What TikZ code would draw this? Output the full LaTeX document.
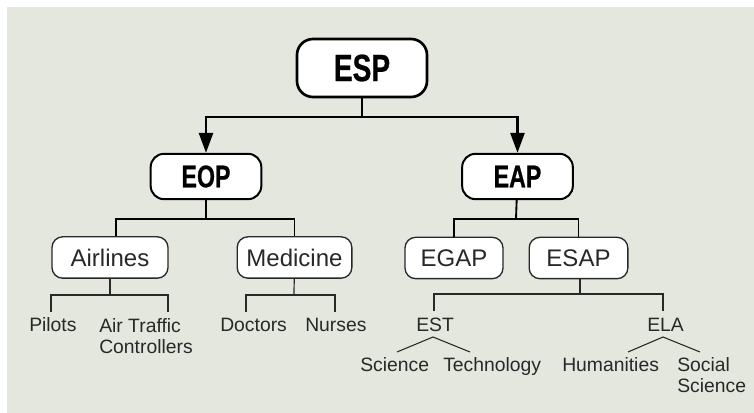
\documentclass[tikz,border=0pt]{standalone}
\usepackage{fontspec}
\setmainfont{Liberation Sans}
\newfontfamily\headfont{Liberation Sans}[FakeStretch=0.74,FakeBold=0.6]
\usetikzlibrary{arrows.meta}
\definecolor{bg}{RGB}{228,231,222}
\definecolor{ink}{RGB}{40,40,40}
\tikzset{
  topbox/.style={draw=black, line width=2pt, fill=white, rounded corners=12pt, inner sep=0pt,
    minimum width=97.5pt, minimum height=43.5pt, font=\headfont\bfseries\fontsize{28.5}{30}\selectfont},
  midbox/.style={draw=black, line width=1.5pt, fill=white, rounded corners=10pt, inner sep=0pt,
    minimum width=83pt, minimum height=34pt, font=\headfont\bfseries\fontsize{23.5}{25}\selectfont},
  subbox/.style={draw=ink, line width=1pt, fill=white, rounded corners=8pt, inner sep=0pt,
    minimum height=31pt, text=ink, font=\fontsize{18}{20}\selectfont},
  leaf/.style={anchor=base west, inner sep=0pt, text=ink, align=left,
    font=\fontsize{14.5}{16}\selectfont},
  l1/.style={draw=black, line width=2pt},
  l1arrow/.style={l1, -{Triangle[width=10.5pt,length=15pt]}},
  l2/.style={draw=black, line width=1.4pt},
  l3/.style={draw=ink, line width=0.9pt},
}
\begin{document}
\begin{tikzpicture}[x=0.75pt,y=-0.75pt]
\useasboundingbox (0,0) rectangle (754,413);
\fill[bg] (7,7) rectangle (754,413);

% boxes
\node[topbox] (esp) at (362,68) {ESP};
\node[midbox] (eop) at (206,176.5) {EOP};
\node[midbox] (eap) at (517.5,176.5) {EAP};
\node[subbox, minimum width=87pt] (air) at (110,257.5) {Airlines};
\node[subbox, minimum width=86pt] (med) at (294.5,257.5) {Medicine};
\node[subbox, minimum width=73.5pt] (egap) at (454,258) {EGAP};
\node[subbox, minimum width=74pt] (esap) at (578.5,258) {ESAP};

% leaves (multi-line nodes: base is the last line)
\node[leaf] (pil) at (29,332) {Pilots};
\node[leaf] (atc) at (99,354) {Air Traffic\\Controllers};
\node[leaf] (doc) at (220,332) {Doctors};
\node[leaf] (nur) at (305,332) {Nurses};
\node[leaf] (est) at (416,332) {EST};
\node[leaf] (ela) at (647,332) {ELA};
\node[leaf] (sci) at (360,372) {Science};
\node[leaf] (tec) at (443,372) {Technology};
\node[leaf] (hum) at (562,372) {Humanities};
\node[leaf] (soc) at (677,393) {Social\\Science};

% level 1
\coordinate (j0) at (362,117);
\draw[l1] (esp) -- (j0);
\draw[l1arrow] (j0) -| (eop.north);
\draw[l1arrow] (j0) -| (eap.north);

% level 2
\coordinate (jeop) at (206,219);
\coordinate (jeap) at (516,219);
\draw[l2] (eop) -- (jeop);
\draw[l2] ([xshift=4.5pt]air.north) |- (jeop) -| (med.north);
\draw[l2] (eap) -- (jeap);
\draw[l2] (egap.north) |- (jeap) -| (esap.north);

% level 3
\coordinate (jair) at (110,295);
\coordinate (dpil) at (51,312);
\coordinate (datc) at (168,312);
\draw[l3] (air) -- (jair);
\draw[l3] (dpil) |- (jair) -| (datc);

\coordinate (jmed) at (294,295);
\coordinate (ddoc) at (246,312);
\coordinate (dnur) at (335,312);
\draw[l3] (med) -- (jmed);
\draw[l3] (ddoc) |- (jmed) -| (dnur);

\coordinate (jesap) at (580,294);
\coordinate (dest) at (434,311);
\coordinate (dela) at (663,311);
\draw[l3] (esap.south -| jesap) -- (jesap);
\draw[l3] (dest) |- (jesap) -| (dela);

% slanted
\coordinate (aest) at (433,337);
\coordinate (sest1) at (397,352);
\coordinate (sest2) at (470,352);
\coordinate (aela) at (663,337);
\coordinate (sela1) at (628,352);
\coordinate (sela2) at (700,352);
\draw[l3, line width=0.8pt] (sest1) -- (aest) -- (sest2);
\draw[l3, line width=0.8pt] (sela1) -- (aela) -- (sela2);
\end{tikzpicture}
\end{document}
